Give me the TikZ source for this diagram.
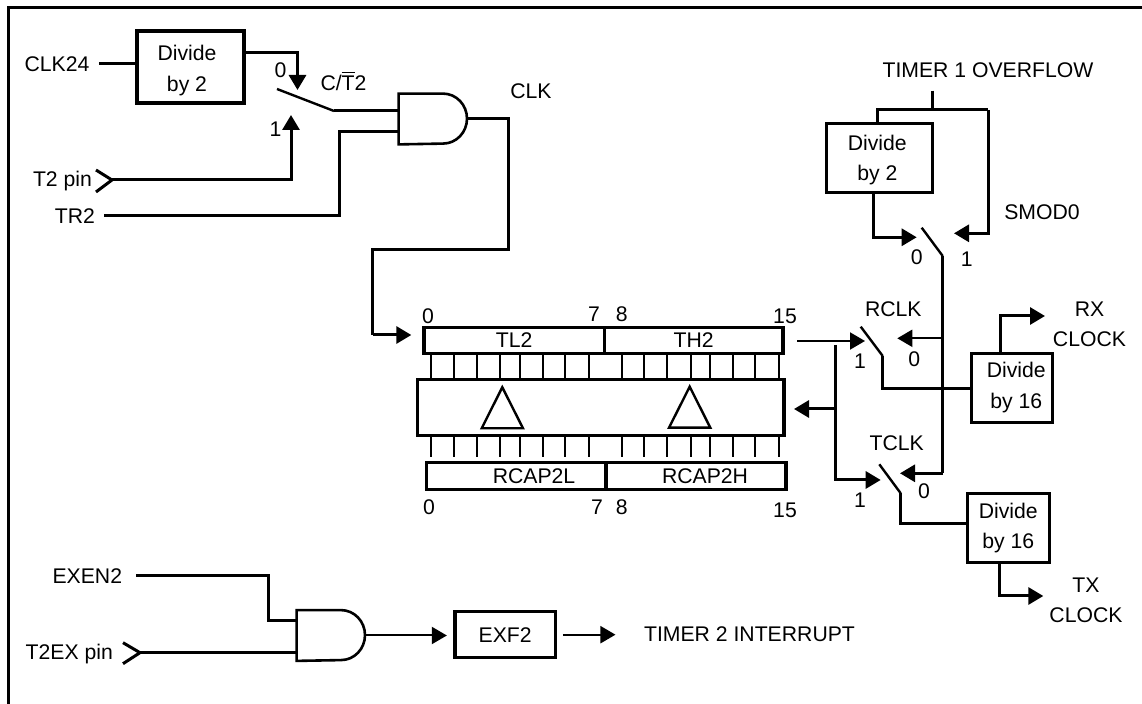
\documentclass[tikz,border=0pt]{standalone}
\usepackage{fontspec}
\setmainfont{Liberation Sans}
\usetikzlibrary{arrows.meta}

\begin{document}
\begin{tikzpicture}[
  x=0.5pt, y=-0.5pt,
  font=\fontsize{10.6}{15.2}\selectfont,
  box/.style n args={2}{draw, line width=1.6pt, minimum width=#1*0.5pt, minimum height=#2*0.5pt,
               inner sep=0pt, align=center},
  sig/.style={inner sep=4.5pt},
  lbl/.style={inner sep=0pt},
  gate/.style={minimum width=33.8pt, minimum height=25pt, inner sep=0pt},
  gatel/.style={line width=1.3pt},
  wire/.style={line width=1.5pt},
  fine/.style={line width=1.2pt},
  arr/.style={-{Triangle[length=7.5pt,width=8.5pt]}, line width=1.5pt},
  thinarr/.style={-{Triangle[length=7.5pt,width=8.5pt]}, line width=1pt}
]
\useasboundingbox (0,0) rectangle (1142,704);

% ---- frame (open on two sides) ----
\draw[line width=1.5pt] (8.5,704) -- (8.5,7.5) -- (1142,7.5);

% ---- clock select (top left) ----
\node[sig]      (clkin)  at (57,64)    {CLK24};
\node[box={107}{72}] (diva) at (190.5,67) {\hspace{-3.5pt}\rule{0pt}{11.1pt}Divide\\\hspace{-3.5pt}by 2};
\node[sig]      (trin)   at (75,216)   {TR2};
\node[lbl]      (tpin)   at (62.5,181) {T2 pin};
\node[lbl]      (selz)   at (280.5,70.5) {0};
\node[lbl]      (selo)   at (275.5,129)  {1};
\node[lbl]      (sel)    at (343.5,81)   {C/$\overline{\mbox{T}}$2};
\node[gate]     (clkand) at (432.8,119) {};
\node[lbl]      (clk)    at (531,91)   {CLK};

\draw[gatel] (clkand.south west) -- (clkand.north west) -- ([xshift=-12pt]clkand.north east)
  arc[start angle=90,end angle=-90,x radius=12pt,y radius=12.5pt] -- cycle;

\coordinate (tptip)  at (112,180);
\coordinate (tpturn) at (291,180);
\coordinate (selone) at (291,115);
\coordinate (divturn) at (297.5,52.7);
\coordinate (selzero) at (297.5,90);
\coordinate (bladea) at (277,89);
\coordinate (bladeb) at (334,111);
\coordinate (trturn) at (339,216);
\coordinate (trup)   at (339,132);
\coordinate (clkr)   at (508,119);
\coordinate (clkd)   at (508,250);
\coordinate (clkl)   at (372.5,250);
\coordinate (clkb)   at (372.5,335);

\draw[wire] (clkin) -- (clkin -| diva.west);
\draw[arr]  (diva.east |- divturn) -- (divturn) -- (selzero);
\draw[arr]  (tptip) -- (tpturn) -- (selone);
\draw[wire] ([shift={(-16,-10)}]tptip) -- (tptip) -- ([shift={(-16,12)}]tptip);
\draw[fine] (bladea) -- (bladeb);
\draw[wire] (bladeb) -- (bladeb -| clkand.west);
\draw[wire] (trin) -- (trturn) -- (trup) -- (trup -| clkand.west);
\draw[wire] (clkand.east) -- (clkr) -- (clkd) -- (clkl) -- (clkb);

% ---- registers ----
\node[box={180.5}{26}] (tl)  at (514.2,340.3) {TL2};
\node[box={178.5}{26}] (th)  at (693.7,340.3) {TH2};
\node[box={366.5}{56}] (cap) at (600.7,407.3) {};
\node[box={179.5}{26.5}] (rl) at (516.4,476)  {\hspace{17.6pt}RCAP2L};
\node[box={180}{26.5}]   (rh) at (696,476)    {\hspace{9pt}RCAP2H};

\draw[arr,shorten >=5.5pt] (clkb) -- (clkb -| tl.west);

\node[lbl] (tza) at (428,316)   {0};
\node[lbl] (tsa) at (594,314)   {7};
\node[lbl] (tea) at (621.7,314) {8};
\node[lbl] (tfa) at (785,316)   {15};
\node[lbl] (bza) at (429,507.7) {0};
\node[lbl] (bsa) at (597,507.7) {7};
\node[lbl] (bea) at (621.7,507.7) {8};
\node[lbl] (bfa) at (785,510)   {15};

\foreach \tx in {431,454,477,500,520,543,565,589,622,644,667,691,710,733,755,779} {
  \draw[fine] (\tx,353.3) -- (\tx,379.3);
  \draw[fine] (\tx,435.3) -- (\tx,456.7);
}

\draw[fine] (502.3,387.3) -- (481.7,428.3) -- (523,428.3) -- cycle;
\draw[fine] (689.7,386.7) -- (669,427.7) -- (710.3,427.7) -- cycle;

% ---- timer 1 overflow (top right) ----
\node[lbl] (ovf)  at (988,70)      {TIMER 1 OVERFLOW};
\node[box={106}{69}] (divb) at (879.7,157.8) {\hspace{-2.4pt}\rule{0pt}{9.7pt}Divide\\\hspace{-2.4pt}by 2};
\node[lbl] (smod) at (1042,212.3)  {SMOD0};
\node[lbl] (smz)  at (916.7,257.3) {0};
\node[lbl] (smo)  at (966.7,259.3) {1};

\coordinate (ovft)  at (932.3,90.7);
\coordinate (ovfj)  at (932.3,110);
\coordinate (ovfl)  at (877.3,110);
\coordinate (ovfr)  at (988.3,110);
\coordinate (smr)   at (988.3,233.3);
\coordinate (smrt)  at (954,233.3);
\coordinate (divbd) at (873.3,237.3);
\coordinate (smlt)  at (916.7,237.3);
\coordinate (smba)  at (921.7,227.7);
\coordinate (smbb)  at (942.7,256);
\coordinate (smend) at (942.7,473.3);

\draw[wire] (ovft) -- (ovfj);
\draw[wire] (ovfl |- divb.north) -- (ovfl) -- (ovfr);
\draw[arr]  (ovfr) -- (smr) -- (smrt);
\draw[arr]  (divbd |- divb.south) -- (divbd) -- (smlt);
\draw[fine] (smba) -- (smbb);

% ---- receive clock ----
\node[lbl] (rclk) at (893.3,309)  {RCLK};
\node[lbl] (rzr)  at (914.3,359)  {0};
\node[lbl] (ror)  at (860,361.7)  {1};
\node[box={81}{69}] (divr) at (1012.2,387.7) {\hspace{4pt}Divide\\\hspace{4pt}by 16};
\node[lbl,align=center] (rx) at (1089.5,324.2) {RX\\CLOCK};

\coordinate (rst)   at (797.3,341);
\coordinate (rtip)  at (865,341);
\coordinate (rfb)   at (942.7,338.3);
\coordinate (rtipz) at (897.3,338.3);
\coordinate (rba)   at (860.7,326.7);
\coordinate (rbb)   at (882.7,356);
\coordinate (rbc)   at (882.7,388.3);
\coordinate (rxup)  at (1000,316);
\coordinate (rxtip) at (1045,316);

\draw[thinarr] (rst) -- (rtip);
\draw[thinarr] (rfb) -- (rtipz);
\draw[fine] (rba) -- (rbb);
\draw[wire] (rbb) -- (rbc) -- (rbc -| divr.west);
\draw[arr]  (rxup |- divr.north) -- (rxup) -- (rxtip);

% ---- transmit clock ----
\node[lbl] (tclk) at (896.7,443.3) {TCLK};
\node[lbl] (tzr)  at (924,491.7)   {0};
\node[lbl] (tor)  at (860,500.7)   {1};
\node[box={82}{69}] (divt) at (1008.2,527.8) {Divide\\by 16};
\node[lbl,align=center] (tx) at (1086,600.5) {TX\\CLOCK};

\coordinate (fbt)   at (835.3,345);
\coordinate (fbm)   at (835.3,409);
\coordinate (fbtip) at (794,409);
\coordinate (fbb)   at (835.3,480);
\coordinate (ttip)  at (880.7,480);
\coordinate (ttipz) at (900,473.3);
\coordinate (tba)   at (879.3,464.3);
\coordinate (tbb)   at (900.7,493.3);
\coordinate (tbc)   at (900.7,524);
\coordinate (txd)   at (999.3,596);
\coordinate (txtip) at (1043.3,596);

\draw[wire] (smbb) -- (smend);
\draw[arr]  (smend) -- (ttipz);
\draw[arr]  (fbt) -- (fbb) -- (ttip);
\draw[arr]  (fbm) -- (fbtip);
\draw[fine] (tba) -- (tbb);
\draw[wire] (tbb) -- (tbc) -- (tbc -| divt.west);
\draw[arr]  (txd |- divt.south) -- (txd) -- (txtip);

% ---- timer 2 interrupt (bottom) ----
\node[sig,inner xsep=7pt] (exen) at (87.3,576) {EXEN2};
\node[lbl] (tex) at (69.3,654.3) {T2EX pin};
\node[gate] (exand) at (330.8,635.5) {};
\node[box={100.3}{46}] (exf) at (505.2,634.7) {EXF2};
\node[sig] (intr) at (749.5,634.7) {TIMER 2 INTERRUPT};

\draw[gatel] (exand.south west) -- (exand.north west) -- ([xshift=-12pt]exand.north east)
  arc[start angle=90,end angle=-90,x radius=12pt,y radius=12.5pt] -- cycle;

\coordinate (exr)   at (268.3,576);
\coordinate (exd)   at (268.3,620.7);
\coordinate (textip) at (140,652.7);

\draw[wire] (exen) -- (exr) -- (exd) -- (exd -| exand.west);
\draw[wire] ([shift={(-17,-10)}]textip) -- (textip) -- ([shift={(-17,11)}]textip);
\draw[wire] (textip) -- (textip -| exand.west);
\draw[thinarr,shorten >=3.3pt] (exand.east) -- (exand.east -| exf.west);
\draw[thinarr,shorten <=3pt,shorten >=9.6pt] (exf) -- (intr);

\end{tikzpicture}
\end{document}
